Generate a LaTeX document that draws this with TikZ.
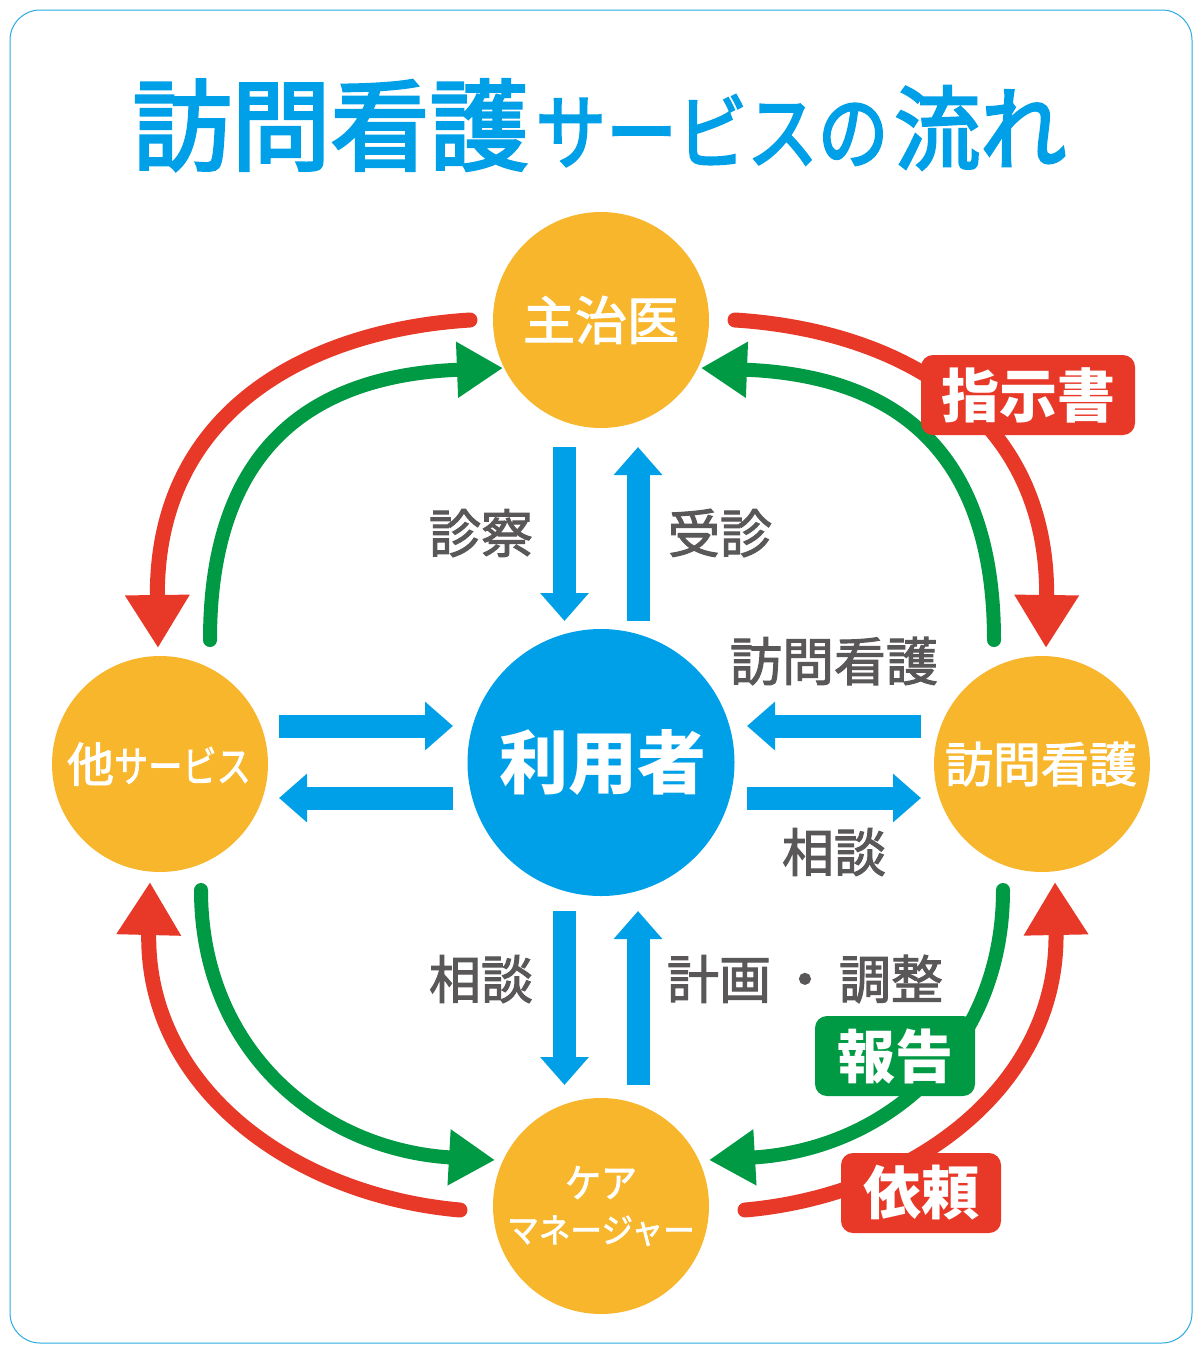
\documentclass[tikz,border=0pt]{standalone}
\usepackage{fontspec}
\usepackage{xcolor}
\usetikzlibrary{arrows.meta}
\newfontfamily\cjk{Noto Sans CJK JP}
\newfontfamily\cjkm[FakeBold=2]{Noto Sans CJK JP}
\newfontfamily\cjkt[FakeBold=3]{Noto Sans CJK JP}
\newcommand{\fs}[1]{\fontsize{#1}{#1}\selectfont}
\definecolor{tblue}{HTML}{00A0E9}
\definecolor{torange}{HTML}{F8B62D}
\definecolor{tred}{HTML}{E83828}
\definecolor{tgreen}{HTML}{009944}
\definecolor{tgray}{HTML}{595757}
\definecolor{tframe}{HTML}{29ABE2}
\tikzset{
  party/.style={circle,fill=torange,minimum size=216pt,inner sep=0pt,text=white,align=center,font=\cjkm},
  hub/.style={circle,fill=tblue,minimum size=267pt,inner sep=0pt,text=white,font=\cjk\bfseries\fs{69}},
  lbl/.style={text=tgray,font=\cjkm\fs{52},inner sep=0pt},
  badge/.style={rounded corners=12pt,text=white,font=\cjk\bfseries,inner sep=0pt,minimum height=80pt},
  flow/.style={tblue,line width=23pt,-{Triangle[length=28pt,width=47pt]}},
  redc/.style={tred,line width=15pt,line cap=round,-{Triangle[length=53pt,width=61pt]}},
  greenc/.style={tgreen,line width=14pt,line cap=round,-{Triangle[length=46pt,width=53pt]}},
}
\begin{document}
\begin{tikzpicture}[x=1pt,y=-1pt]
\useasboundingbox (0,0) rectangle (1200,1350);
\fill[white] (0,0) rectangle (1200,1350);
\draw[tframe,line width=1pt,rounded corners=30pt] (10,10) rectangle (1192,1343);
\node[text=tblue,font=\cjkt,inner sep=0pt] (title) at (599.5,125)
  {\fs{99}訪問看護\hspace{7pt}\scalebox{0.98}[1.14]{\fs{72}サービスの}\hspace{6pt}\scalebox{1}[1.06]{\fs{86}流れ}};
\node[party] (doc) at (601,320) {\raisebox{2pt}{\fs{52}主治医}};
\node[party] (oth) at (160,764) {\raisebox{2pt}{\hspace{-2pt}\fs{47}他\scalebox{0.95}[1.18]{\fs{36}サービス}}};
\node[party] (nur) at (1042,764) {\raisebox{2.5pt}{\hspace{-2pt}\fs{48}訪問看護}};
\node[party] (cm) at (601,1206) {\raisebox{3pt}{\scalebox{1}[1.1]{\fs{36}ケア}}\\[14pt]\scalebox{1.02}[1.1]{\fs{31}マネージャー}};
\node[hub] (user) at (601,762.5) {\hspace{4pt}\raisebox{-1pt}{利用者}};
% curved connectors
\coordinate (a1) at (470,320); \coordinate (a2) at (158,648);
\coordinate (b1) at (210,640); \coordinate (b2) at (503,368);
\coordinate (c1) at (735,320); \coordinate (c2) at (1046,648);
\coordinate (d1) at (994,640); \coordinate (d2) at (701,368);
\coordinate (e1) at (201,890); \coordinate (e2) at (495,1160);
\coordinate (f1) at (460,1210); \coordinate (f2) at (150,882);
\coordinate (g1) at (1003,890); \coordinate (g2) at (709,1160);
\coordinate (h1) at (745,1210); \coordinate (h2) at (1055,882);
\draw[redc] (a1) .. controls (310,330) and (155,410) .. (a2);
\draw[greenc] (b1) .. controls (210,440) and (320,375) .. (b2);
\draw[redc] (c1) .. controls (894,330) and (1049,410) .. (c2);
\draw[greenc] (d1) .. controls (994,440) and (884,375) .. (d2);
\draw[greenc] (e1) .. controls (201,1050) and (320,1150) .. (e2);
\draw[redc] (f1) .. controls (290,1195) and (145,1085) .. (f2);
\draw[greenc] (g1) .. controls (1003,1050) and (884,1150) .. (g2);
\draw[redc] (h1) .. controls (914,1195) and (1059,1085) .. (h2);
% straight connectors
\coordinate (p1) at (564.5,447); \coordinate (p2) at (564.5,621);
\coordinate (q1) at (638,621); \coordinate (q2) at (638,447);
\coordinate (r1) at (564.5,911); \coordinate (r2) at (564.5,1085);
\coordinate (s1) at (638,1085); \coordinate (s2) at (638,911);
\coordinate (t1) at (279,726); \coordinate (t2) at (453,726);
\coordinate (u1) at (453,798); \coordinate (u2) at (279,798);
\coordinate (v1) at (921,726); \coordinate (v2) at (747,726);
\coordinate (w1) at (747,798); \coordinate (w2) at (921,798);
\draw[flow] (p1) -- (p2);
\draw[flow] (q1) -- (q2);
\draw[flow] (r1) -- (r2);
\draw[flow] (s1) -- (s2);
\draw[flow] (t1) -- (t2);
\draw[flow] (u1) -- (u2);
\draw[flow] (v1) -- (v2);
\draw[flow] (w1) -- (w2);
% labels
\node[lbl] (l1) at (481,533) {診察};
\node[lbl] (l2) at (720,533) {受診};
\node[lbl] (l3) at (834,661) {訪問看護};
\node[lbl] (l4) at (834,852) {相談};
\node[lbl] (l5) at (481,979) {相談};
\node[lbl] (l6) at (805,979) {計画\hspace{8pt}・\hspace{8pt}調整};
% badges
\node[badge,fill=tred,minimum width=214pt,font=\cjk\bfseries\fs{58}] (b-a) at (1028,395) {指示書};
\node[badge,fill=tgreen,minimum width=160pt,font=\cjk\bfseries\fs{58}] (b-b) at (895,1056) {報告};
\node[badge,fill=tred,minimum width=160pt,font=\cjk\bfseries\fs{58}] (b-c) at (921,1193) {依頼};
\end{tikzpicture}
\end{document}
